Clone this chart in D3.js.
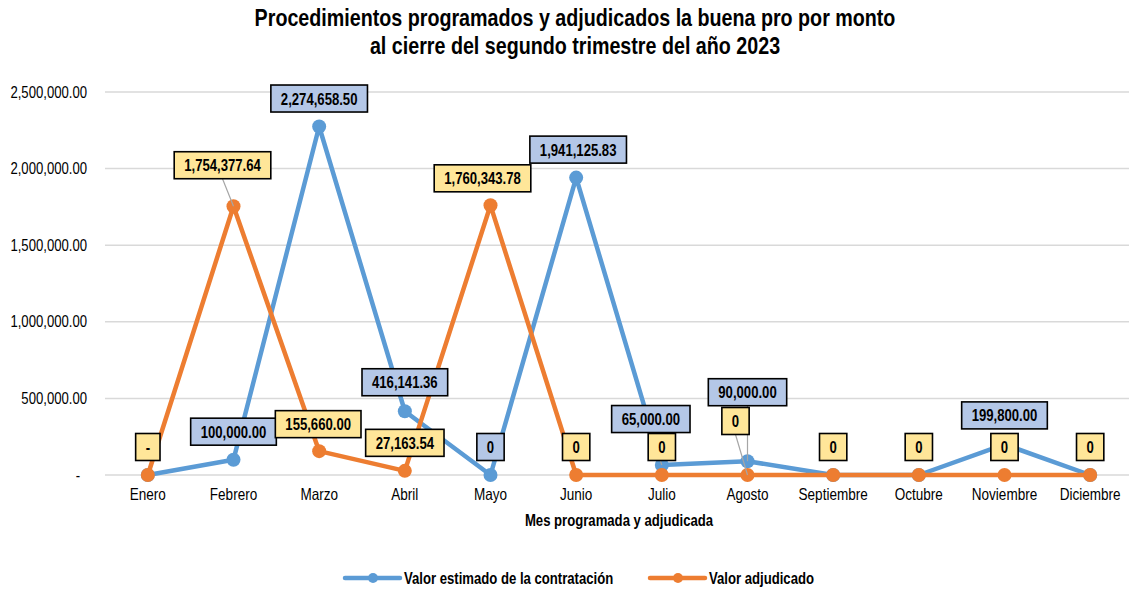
<!DOCTYPE html>
<html>
<head>
<meta charset="utf-8">
<script src="https://cdn.jsdelivr.net/npm/d3@7"></script>
<style>
    body { margin: 0; background: #fff; }
    svg text { font-family: "Liberation Sans", Arial, sans-serif; fill: #000; }
</style>
</head>
<body>
<div id="chart"></div>
<script>
// months on the x axis
const months = ["Enero", "Febrero", "Marzo", "Abril", "Mayo", "Junio", "Julio",
    "Agosto", "Septiembre", "Octubre", "Noviembre", "Diciembre"];

// series values
const estimado = [0, 100000, 2274658.50, 416141.36, 0, 1941125.83, 65000, 90000, 0, 0, 199800, 0];
const adjudicado = [0, 1754377.64, 155660, 27163.54, 1760343.78, 0, 0, 0, 0, 0, 0, 0];

// label texts as shown in the picture
const estimadoLabels = [null, "100,000.00", "2,274,658.50", "416,141.36", "0", "1,941,125.83",
    "65,000.00", "90,000.00", null, null, "199,800.00", null];
const adjudicadoLabels = ["-", "1,754,377.64", "155,660.00", "27,163.54", "1,760,343.78", "0",
    "0", "0", "0", "0", "0", "0"];

const yTicks = [0, 500000, 1000000, 1500000, 2000000, 2500000];

// label nudges (dx, dy from the point) - layout only
const estimadoOffsets = [[0, -28], [0, -28], [0, -28], [0, -29], [0, -28], [2, -28],
    [-11, -46], [0, -69], [0, -28], [0, -28], [0, -29], [0, -28]];
const adjudicadoOffsets = [[0, -28], [-11, -41], [-1, -27], [0, -28], [-8, -27], [0, -28],
    [0, -28], [-12, -54], [0, -28], [0, -28], [0, -28], [0, -28]];

const W = 1129, H = 590;
const margin = { top: 92, right: -4, bottom: 115, left: 105 };
const SQUEEZE = 0.82; // narrow look of the original font

const svg = d3.select("#chart").append("svg")
    .attr("width", W).attr("height", H);

// squeeze text horizontally, returns the new width
function narrow(sel) {
    let w = 0;
    sel.each(function () {
        const L = this.getComputedTextLength() * SQUEEZE;
        d3.select(this).attr("textLength", L).attr("lengthAdjust", "spacingAndGlyphs");
        w = L;
    });
    return w;
}

const x = d3.scaleBand().domain(months).range([margin.left, W - margin.right]);
const y = d3.scaleLinear().domain([0, 2500000]).range([H - margin.bottom, margin.top]);
const cx = m => x(m) + x.bandwidth() / 2;

// title
["Procedimientos programados y adjudicados la buena pro por monto",
    "al cierre del segundo trimestre del año 2023"].forEach((t, i) => {
    svg.append("text")
        .attr("x", 575).attr("y", 26 + i * 28)
        .attr("text-anchor", "middle")
        .style("font-size", "24px").style("font-weight", "bold")
        .text(t)
        .call(narrow);
});

// gridlines
svg.append("g").selectAll("line")
    .data(yTicks)
    .enter().append("line")
    .attr("x1", margin.left).attr("x2", W)
    .attr("y1", d => y(d)).attr("y2", d => y(d))
    .attr("stroke", "#d9d9d9").attr("stroke-width", 1.5);

// y axis labels
const fmt = d3.format(",.2f");
const yAxis = d3.axisLeft(y).tickValues(yTicks).tickSize(0).tickPadding(18)
    .tickFormat(d => d === 0 ? "-" : fmt(d));
svg.append("g")
    .attr("transform", `translate(${margin.left},0)`)
    .call(yAxis)
    .call(g => g.select(".domain").remove())
    .call(g => g.selectAll("text").style("font-size", "16px").attr("font-family", null))
    .call(g => g.selectAll("text").filter(d => d === 0).attr("dx", -7))
    .call(g => g.selectAll("text").each(function () { narrow(d3.select(this)); }));

// x axis labels
const xAxis = d3.axisBottom(x).tickSize(0).tickPadding(13);
svg.append("g")
    .attr("transform", `translate(0,${y(0)})`)
    .call(xAxis)
    .call(g => g.select(".domain").remove())
    .call(g => g.selectAll("text").style("font-size", "16.5px").attr("font-family", null))
    .call(g => g.selectAll("text").each(function () { narrow(d3.select(this)); }));

// axis title
svg.append("text")
    .attr("x", 619).attr("y", 526)
    .attr("text-anchor", "middle")
    .style("font-size", "16px").style("font-weight", "bold")
    .text("Mes programada y adjudicada")
    .call(narrow);

const series = [
    { name: "Valor estimado de la contratación", values: estimado, color: "#5b9bd5",
        labels: estimadoLabels, offsets: estimadoOffsets, fill: "#b4c7e7" },
    { name: "Valor adjudicado", values: adjudicado, color: "#ed7d31",
        labels: adjudicadoLabels, offsets: adjudicadoOffsets, fill: "#ffe699" }
];

const line = d3.line()
    .x((d, i) => cx(months[i]))
    .y(d => y(d));

// lines and markers
series.forEach(s => {
    svg.append("path")
        .datum(s.values)
        .attr("d", line)
        .attr("fill", "none")
        .attr("stroke", s.color)
        .attr("stroke-width", 4.5)
        .attr("stroke-linejoin", "round");
    svg.append("g").selectAll("circle")
        .data(s.values)
        .enter().append("circle")
        .attr("cx", (d, i) => cx(months[i]))
        .attr("cy", d => y(d))
        .attr("r", 7)
        .attr("fill", s.color);
});

// data labels
const labelLayer = svg.append("g");
series.forEach(s => {
    s.values.forEach((v, i) => {
        const txt = s.labels[i];
        if (txt === null) return;
        const px = cx(months[i]), py = y(v);
        const lx = px + s.offsets[i][0], ly = py + s.offsets[i][1];
        const g = labelLayer.append("g");
        const t = g.append("text")
            .attr("x", lx).attr("y", ly + 6)
            .attr("text-anchor", "middle")
            .style("font-size", "16px").style("font-weight", "bold")
            .text(txt);
        const bw = Math.max(narrow(t) + 20, 24);
        const bh = 27;
        // leader line when the label sits far from its point
        if (ly + bh / 2 < py - 20) {
            g.insert("line", "text")
                .attr("x1", lx).attr("y1", ly + bh / 2)
                .attr("x2", px).attr("y2", py)
                .attr("stroke", "#a6a6a6").attr("stroke-width", 1.2);
        }
        g.insert("rect", "text")
            .attr("x", lx - bw / 2).attr("y", ly - bh / 2)
            .attr("width", bw).attr("height", bh)
            .attr("fill", s.fill)
            .attr("stroke", "#000").attr("stroke-width", 1.6);
    });
});

// legend
const legend = svg.append("g");
const legendItems = [{ s: series[0], x: 345 }, { s: series[1], x: 650 }];
legendItems.forEach(d => {
    legend.append("line")
        .attr("x1", d.x).attr("x2", d.x + 55)
        .attr("y1", 578).attr("y2", 578)
        .attr("stroke", d.s.color).attr("stroke-width", 4.5).attr("stroke-linecap", "round");
    legend.append("circle")
        .attr("cx", d.x + 28).attr("cy", 578).attr("r", 5)
        .attr("fill", d.s.color);
    legend.append("text")
        .attr("x", d.x + 59).attr("y", 584)
        .style("font-size", "16px").style("font-weight", "bold")
        .text(d.s.name)
        .call(narrow);
});
</script>
</body>
</html>
